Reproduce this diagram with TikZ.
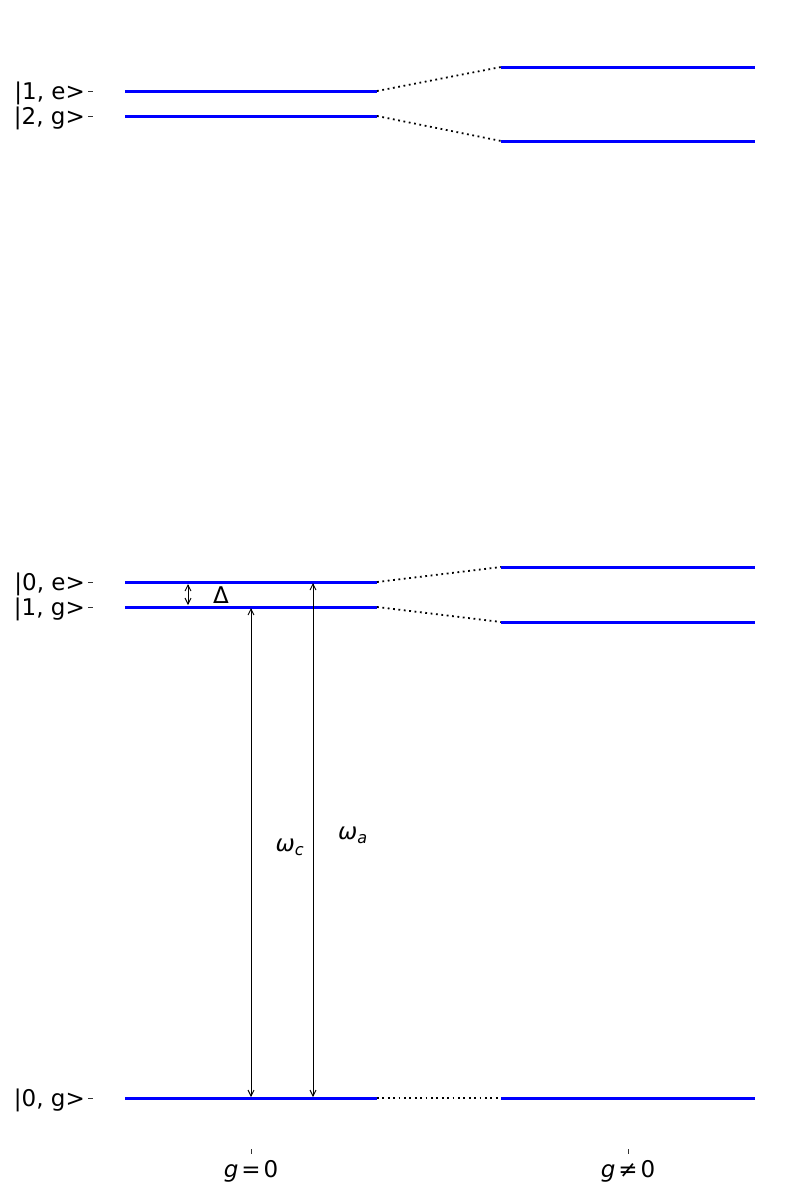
\documentclass[tikz,border=0pt]{standalone}
\usepackage{fontspec}
\setmainfont{DejaVu Sans}
\usetikzlibrary{arrows.meta, positioning}
\tikzset{
  energy/.style={line width=3pt, color=blue},
  shiftline/.style={line width=1.8pt, dash pattern=on 1.8pt off 3.6pt},
  gaparrow/.style={{Straight Barb[length=6pt, width=6pt]}-{Straight Barb[length=6pt, width=6pt]}, line width=0.9pt},
  tick/.style={line width=1pt, color=black!80},
  statelabel/.style={anchor=east, inner sep=0pt, font=\fontsize{23}{27}\selectfont},
  gaplabel/.style={inner sep=0pt, font=\fontsize{23}{27}\selectfont}
}
\begin{document}
\begin{tikzpicture}[x=1pt, y=-1pt]
  \useasboundingbox (0,0) rectangle (800,1200);

  % level ends, g = 0
  \coordinate (e1a) at (125,91);   \coordinate (e1b) at (377,91);
  \coordinate (g2a) at (125,116);  \coordinate (g2b) at (377,116);
  \coordinate (e0a) at (125,582);  \coordinate (e0b) at (377,582);
  \coordinate (g1a) at (125,607);  \coordinate (g1b) at (377,607);
  \coordinate (g0a) at (125,1098); \coordinate (g0b) at (377,1098);
  % level ends, g != 0
  \coordinate (up2a) at (501,67);   \coordinate (up2b) at (755,67);
  \coordinate (dn2a) at (501,141);  \coordinate (dn2b) at (755,141);
  \coordinate (up1a) at (501,567);  \coordinate (up1b) at (755,567);
  \coordinate (dn1a) at (501,622);  \coordinate (dn1b) at (755,622);
  \coordinate (gndA) at (501,1098); \coordinate (gndB) at (755,1098);

  \draw[energy] (e1a) -- (e1b);
  \draw[energy] (g2a) -- (g2b);
  \draw[energy] (e0a) -- (e0b);
  \draw[energy] (g1a) -- (g1b);
  \draw[energy] (g0a) -- (g0b);
  \draw[energy] (up2a) -- (up2b);
  \draw[energy] (dn2a) -- (dn2b);
  \draw[energy] (up1a) -- (up1b);
  \draw[energy] (dn1a) -- (dn1b);
  \draw[energy] (gndA) -- (gndB);

  \draw[shiftline] (e1b) -- (up2a);
  \draw[shiftline] (g2b) -- (dn2a);
  \draw[shiftline] (e0b) -- (up1a);
  \draw[shiftline] (g1b) -- (dn1a);
  \draw[shiftline] (g0b) -- (gndA);

  % state labels and ticks
  \node[statelabel] (lab1e) at (85,93) {|1, e>};
  \node[statelabel] (lab2g) at (85,118) {|2, g>};
  \node[statelabel] (lab0e) at (85,584) {|0, e>};
  \node[statelabel] (lab1g) at (85,609) {|1, g>};
  \node[statelabel] (lab0g) at (85,1100) {|0, g>};
  \foreach \y in {91,116,582,607,1098}
    \draw[tick] (88,\y) -- (93,\y);
  \draw[tick] (251,1149) -- (251,1154);
  \draw[tick] (628,1149) -- (628,1154);
  \node[gaplabel] (gzero) at (251,1171) {\textit{g}\kern3pt=\kern3pt0};
  \node[gaplabel] (gnonzero) at (628,1171) {\textit{g}\kern3pt≠\kern3pt0};

  % transitions
  \coordinate (dtop) at (188,584);  \coordinate (dbot) at (188,605);
  \coordinate (ctop) at (251,608);  \coordinate (cbot) at (251,1097);
  \coordinate (atop) at (313,583);  \coordinate (abot) at (313,1097);
  \draw[gaparrow] (dtop) -- (dbot);
  \draw[gaparrow] (ctop) -- (cbot);
  \draw[gaparrow] (atop) -- (abot);
  \node[gaplabel] (delta) at (221,595) {Δ};
  \node[gaplabel] (omc) at (290,847) {\textit{ω}\textsubscript{\textit{c}}};
  \node[gaplabel] (oma) at (353,835) {\textit{ω}\textsubscript{\textit{a}}};
\end{tikzpicture}
\end{document}
